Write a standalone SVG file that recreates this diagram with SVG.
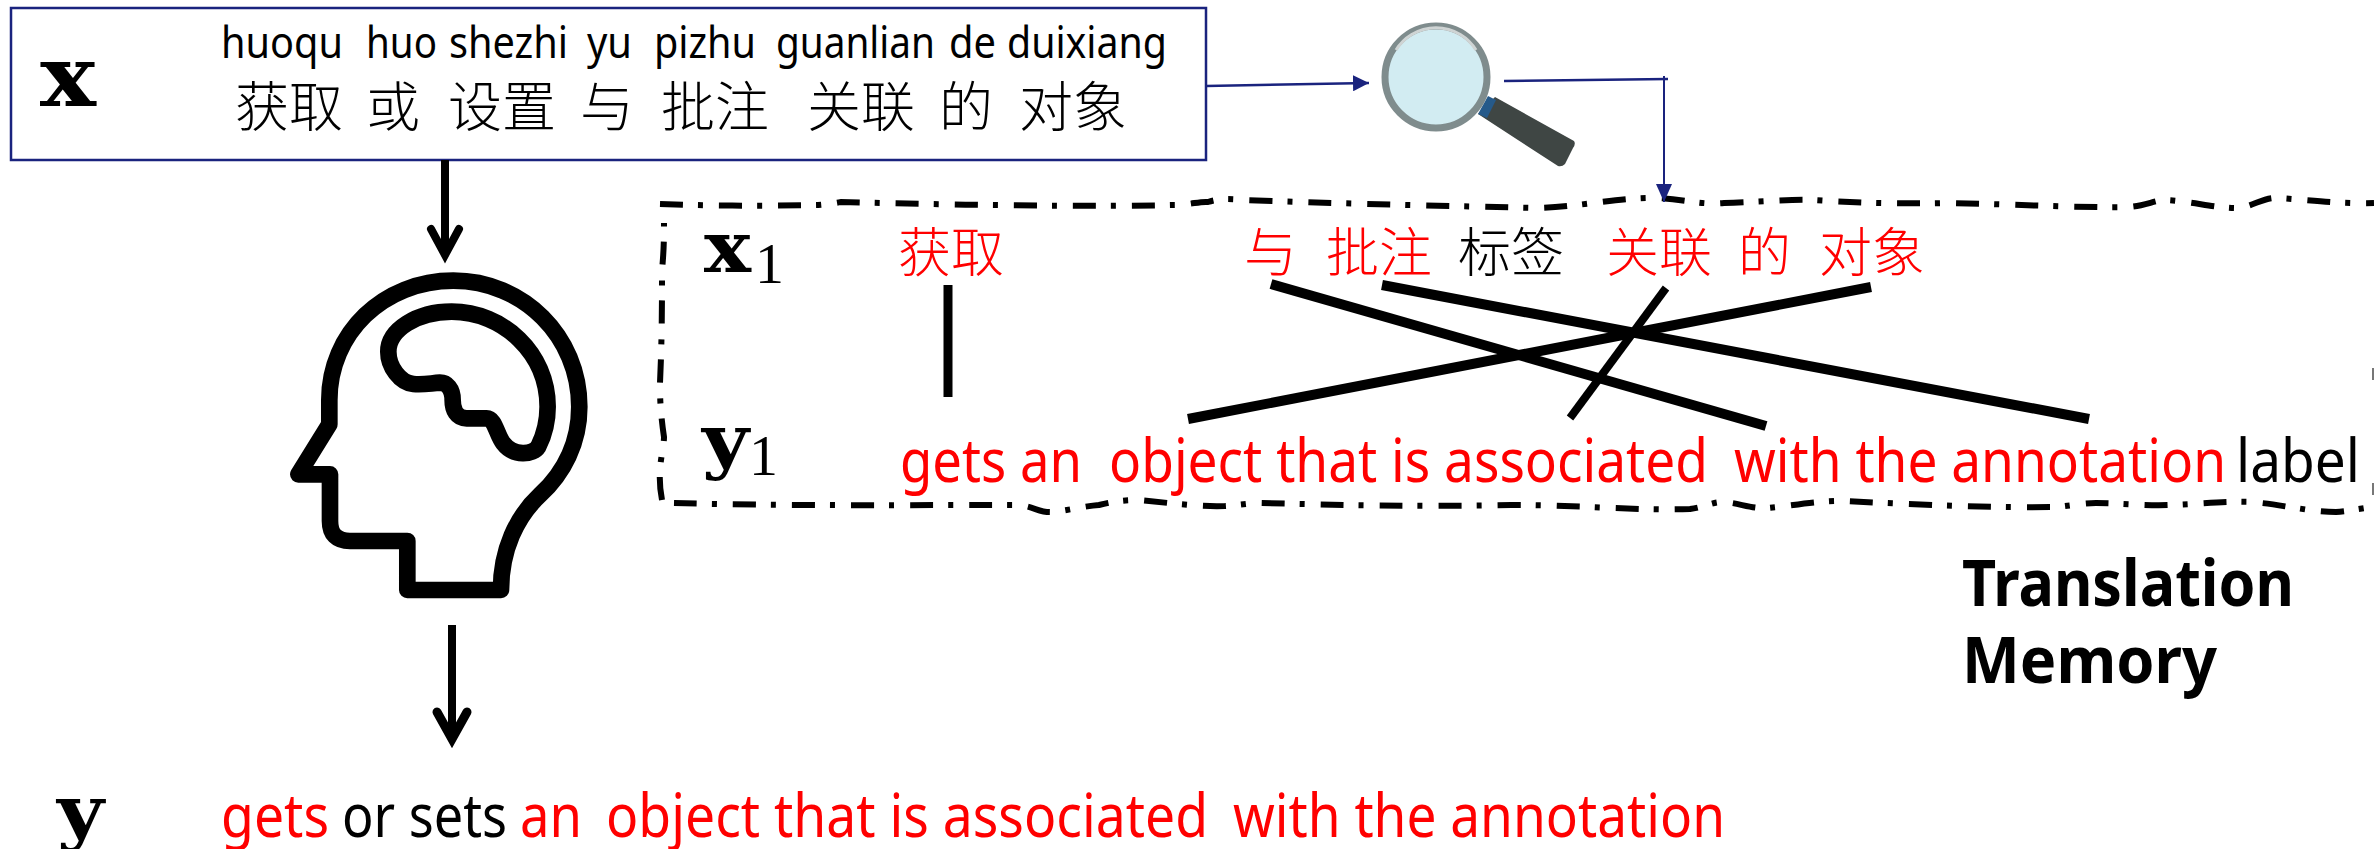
<svg xmlns="http://www.w3.org/2000/svg" width="2374" height="849" viewBox="0 0 2374 849">
<style>
text{font-family:"Noto Sans","Noto Sans CJK SC",sans-serif;fill:#000}
.cjk{font-family:"Noto Sans CJK SC",sans-serif;font-size:53px;font-weight:300}
.cjt{font-size:54px}
.en{font-size:60px}
.py{font-size:43px}
.r{fill:#f00}
.math{font-family:"DejaVu Serif",serif;font-weight:700}
.sub{font-family:"Liberation Serif",serif;font-size:58px}
.tm{font-size:64px;font-weight:700}
.blue{stroke:#1a237e;fill:none}
.k{stroke:#000;fill:none}
</style>
<defs>
<marker id="bh" markerUnits="userSpaceOnUse" markerWidth="16" markerHeight="16" refX="16" refY="8" orient="auto"><path d="M0 0L16 8L0 16Z" fill="#1a237e"/></marker>
<marker id="bv" markerUnits="userSpaceOnUse" markerWidth="18" markerHeight="16" refX="18" refY="8" orient="auto"><path d="M0 0L18 8L0 16Z" fill="#1a237e"/></marker>
</defs>
<g id="source-box">
<rect x="11" y="8" width="1195" height="152" fill="#fff" stroke="#1a237e" stroke-width="2.5"/>
<text class="math" x="40" y="106" font-size="85" textLength="56" lengthAdjust="spacingAndGlyphs">x</text>
<text class="py" x="221" y="58" textLength="122" lengthAdjust="spacingAndGlyphs">huoqu</text>
<text class="py" x="366" y="58" textLength="71" lengthAdjust="spacingAndGlyphs">huo</text>
<text class="py" x="449" y="58" textLength="119" lengthAdjust="spacingAndGlyphs">shezhi</text>
<text class="py" x="587" y="58" textLength="45" lengthAdjust="spacingAndGlyphs">yu</text>
<text class="py" x="654" y="58" textLength="102" lengthAdjust="spacingAndGlyphs">pizhu</text>
<text class="py" x="776" y="58" textLength="159" lengthAdjust="spacingAndGlyphs">guanlian</text>
<text class="py" x="949" y="58" textLength="47" lengthAdjust="spacingAndGlyphs">de</text>
<text class="py" x="1007" y="58" textLength="160" lengthAdjust="spacingAndGlyphs">duixiang</text>
<text class="cjk cjt" x="235" y="127">获取</text>
<text class="cjk cjt" x="366" y="127">或</text>
<text class="cjk cjt" x="448" y="127">设置</text>
<text class="cjk cjt" x="580" y="127">与</text>
<text class="cjk cjt" x="661" y="127">批注</text>
<text class="cjk cjt" x="807" y="127">关联</text>
<text class="cjk cjt" x="939" y="127">的</text>
<text class="cjk cjt" x="1019" y="127">对象</text>
</g>
<g id="brain-head">
<g transform="translate(270 240) scale(.3333)" fill="none" stroke="#000" stroke-width="50" stroke-linejoin="round">
<path d="M693 1050H412V903H240Q180 903 180 843V703H85L178 553V480C178 280 340 122 550 122C760 122 928 290 928 500C928 610 880 700 810 765C740 830 693 930 693 1050Z"/>
<path d="M355 335C355 270 440 215 545 215C700 215 833 340 833 500C833 550 820 590 805 620C790 645 730 650 700 610C680 585 675 535 650 535H590C560 535 548 510 548 480C548 445 530 428 510 428C480 430 460 435 430 432C390 428 355 380 355 335Z"/>
</g>
</g>
<g id="magnifier">
<path d="M1495 97L1574 141Q1576 144 1573 148L1565 164Q1562 167 1558 166L1478 114Z" fill="#3f4644"/>
<path d="M1488 96L1496 100L1487 118L1478 114Z" fill="#265a8a"/>
<circle cx="1436" cy="77" r="51" fill="#d2ecf2" stroke="#7f8c8d" stroke-width="7"/>
<path d="M1396 50A47 47 0 0 1 1476 50" fill="none" stroke="#cfd4d4" stroke-width="3"/>
</g>
<g id="memory">
<path d="M662 500C656 470 664 450 664 437C660 410 660 395 660 383C662 340 662 300 662 270C664 250 664 235 664 223M660 204C710 206 770 206 818 205C830 204 835 203 841 202C950 205 1100 207 1174 205C1190 205 1200 201 1208 202C1220 198 1230 199 1245 200C1350 204 1450 206 1537 208C1580 207 1620 197 1657 198C1690 200 1700 205 1724 203C1760 202 1790 199 1814 200C1860 203 1900 204 1948 203C2010 204 2080 208 2128 207C2145 206 2155 200 2165 200C2190 201 2220 209 2240 208C2255 205 2265 197 2278 198C2310 200 2340 204 2374 203" class="k" stroke-width="6" stroke-dasharray="23 15 5 16"/>
<path d="M674 503C780 506 920 505 1019 505C1035 507 1040 513 1053 512C1070 510 1085 506 1099 505C1115 501 1125 500 1139 500C1170 503 1200 507 1225 506C1240 505 1250 503 1260 503C1340 505 1420 507 1511 505C1580 505 1640 511 1690 509C1705 507 1712 502 1723 502C1740 503 1750 509 1768 508C1790 506 1820 500 1846 501C1920 505 2000 508 2057 507C2075 505 2085 503 2096 503C2120 503 2145 506 2169 505C2200 504 2225 501 2252 502C2285 505 2310 512 2336 512C2350 511 2362 508 2374 507" class="k" stroke-width="6" stroke-dasharray="23 15 5 16"/>
<path d="M2373 368V380M2373 483V495" stroke="#777" stroke-width="2" fill="none"/>
<text class="math" x="704" y="272" font-size="71" textLength="47" lengthAdjust="spacingAndGlyphs">x</text>
<text class="sub" x="755" y="283">1</text>
<text class="math" x="702" y="465" font-size="71" textLength="47" lengthAdjust="spacingAndGlyphs">y</text>
<text class="sub" x="749" y="475">1</text>
<text class="cjk r" x="898" y="272">获取</text>
<text class="cjk r" x="1244" y="272">与</text>
<text class="cjk r" x="1326" y="272">批注</text>
<text class="cjk" x="1458" y="272">标签</text>
<text class="cjk r" x="1606" y="272">关联</text>
<text class="cjk r" x="1738" y="272">的</text>
<text class="cjk r" x="1819" y="272">对象</text>
<text class="en r" x="900" y="482" textLength="182" lengthAdjust="spacingAndGlyphs">gets an</text>
<text class="en r" x="1109" y="482" textLength="599" lengthAdjust="spacingAndGlyphs">object that is associated</text>
<text class="en r" x="1734" y="482" textLength="492" lengthAdjust="spacingAndGlyphs">with the annotation</text>
<text class="en" x="2236" y="482" textLength="124" lengthAdjust="spacingAndGlyphs">label</text>
<text class="tm" x="1962" y="606" textLength="332" lengthAdjust="spacingAndGlyphs">Translation</text>
<text class="tm" x="1962" y="683" textLength="255" lengthAdjust="spacingAndGlyphs">Memory</text>
</g>
<g id="output">
<text class="math" x="57" y="836" font-size="71" textLength="47" lengthAdjust="spacingAndGlyphs">y</text>
<text class="en r" x="221" y="837" textLength="108" lengthAdjust="spacingAndGlyphs">gets</text>
<text class="en" x="342" y="837" textLength="165" lengthAdjust="spacingAndGlyphs">or sets</text>
<text class="en r" x="520" y="837" textLength="62" lengthAdjust="spacingAndGlyphs">an</text>
<text class="en r" x="606" y="837" textLength="602" lengthAdjust="spacingAndGlyphs">object that is associated</text>
<text class="en r" x="1233" y="837" textLength="492" lengthAdjust="spacingAndGlyphs">with the annotation</text>
</g>
<g id="connectors">
<path class="blue" stroke-width="2.5" d="M1206 86L1369 83" marker-end="url(#bh)"/>
<path class="blue" stroke-width="2.5" d="M1504 81L1668 79"/>
<path class="blue" stroke-width="2" d="M1664 76V202" marker-end="url(#bv)"/>
<path class="k" stroke-width="8" d="M445 160V255"/>
<path class="k" stroke-width="8" stroke-linecap="round" d="M431 229L445 255L459 229"/>
<path class="k" stroke-width="8" d="M452 625V736"/>
<path class="k" stroke-width="9" stroke-linecap="round" d="M437 712L452 739L467 712"/>
<path class="k" stroke-width="9" d="M948 285V397"/>
<path class="k" stroke-width="10" d="M1271 284L1766 426"/>
<path class="k" stroke-width="10" d="M1382 285L2089 419"/>
<path class="k" stroke-width="8" d="M1666 288L1570 418"/>
<path class="k" stroke-width="10" d="M1188 419L1871 287"/>
</g>
</svg>
